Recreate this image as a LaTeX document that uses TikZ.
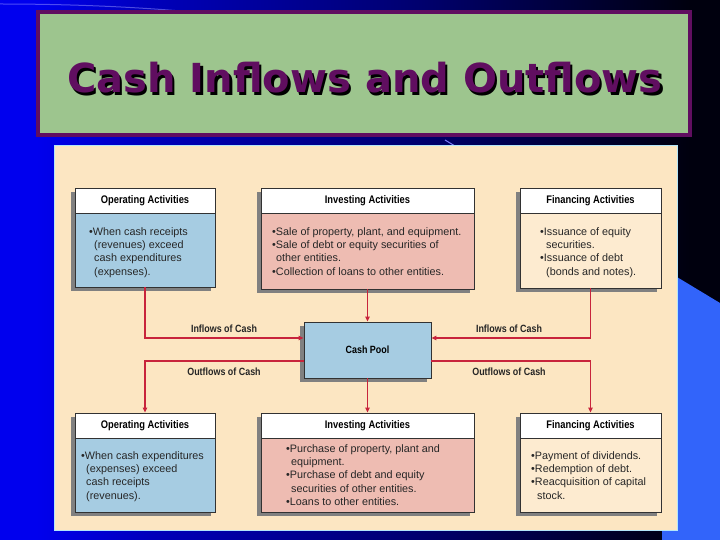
\documentclass[tikz,border=0pt]{standalone}
\usepackage{fontspec}
\setmainfont{Liberation Sans}
\newfontfamily\titlefont{DejaVu Sans}
\newfontfamily\hdrfont[FakeStretch=0.85]{Liberation Sans}
\usetikzlibrary{arrows.meta,shadings}
\definecolor{panelc}{RGB}{252,230,194}
\definecolor{opc}{RGB}{166,204,226}
\definecolor{invc}{RGB}{238,188,178}
\definecolor{finc}{RGB}{253,235,208}
\definecolor{flowc}{RGB}{200,36,60}
\definecolor{titleg}{RGB}{157,197,142}
\definecolor{titlep}{RGB}{96,14,96}
\definecolor{shadowc}{RGB}{128,128,128}
\definecolor{bordc}{RGB}{50,50,50}
\definecolor{bgblue}{RGB}{0,0,238}
\definecolor{bgnavy}{RGB}{0,0,110}
\definecolor{bgdark}{RGB}{0,0,14}
\definecolor{shapeblue}{RGB}{50,100,250}
\tikzset{
  actbox/.style={draw=bordc, line width=0.9pt, rectangle, inner sep=0pt},
  hdrbox/.style={draw=bordc, line width=0.9pt, fill=white, rectangle, inner sep=0pt, font=\hdrfont\bfseries\fontsize{11}{13}\selectfont},
  bodytext/.style={anchor=north west, inner sep=0pt, align=left, font=\fontsize{10.8}{13.4}\selectfont, text=black!85},
  flow/.style={draw=flowc, line width=1.3pt, -{Triangle[length=5pt,width=4.5pt]}},
  flowlabel/.style={font=\hdrfont\bfseries\fontsize{10.5}{12}\selectfont, text=black!85, inner sep=0pt},
}
\newcommand{\shadowbox}[4]{\fill[shadowc] (#1-4,#2+4) rectangle (#3-4,#4+4);}
\newcommand{\titlestr}{Cash Inflows and Outflows}
\begin{document}
\begin{tikzpicture}[x=1pt,y=-1pt]
\useasboundingbox (0,0) rectangle (720,540);
% background
\fill[bgblue] (0,0) rectangle (36,540);
\shade[left color=bgblue, right color=bgblue!60!bgnavy] (36,0) rectangle (150,540);
\shade[left color=bgblue!60!bgnavy, right color=bgnavy] (150,0) rectangle (420,540);
\shade[left color=bgnavy, right color=bgdark] (420,0) rectangle (690,540);
\fill[bgdark] (690,0) rectangle (720,540);
\fill[shapeblue] (662,268) -- (720,303) -- (720,540) -- (662,540) -- cycle;
\draw[white!60!blue, line width=1pt, opacity=0.5] (0,4) .. controls (100,4) and (200,10) .. (275,22);
\draw[blue!50!white, line width=1pt] (445,140) -- (455,146);
% title
\node[draw=titlep, line width=3.5pt, fill=titleg, minimum width=652pt, minimum height=123pt, inner sep=0pt] (title) at (364,73.5) {};
\node[font=\titlefont\bfseries\fontsize{40}{44}\selectfont, inner sep=0pt] (titletext) at (365,79)
  {\makebox[0pt][l]{\raisebox{-2.2pt}{\hspace{2.2pt}\textcolor{black}{\titlestr}}}\textcolor{titlep}{\titlestr}};
% panel
\node[draw=cyan!30!white, line width=0.8pt, fill=panelc, minimum width=623pt, minimum height=385pt, inner sep=0pt] (panel) at (365.5,337.5) {};
% shadows
\shadowbox{75}{188}{215}{287}
\shadowbox{261}{188}{474}{289}
\shadowbox{520}{188}{661}{288}
\shadowbox{304}{322}{431}{378}
\shadowbox{75}{413}{215}{512}
\shadowbox{261}{413}{474}{512}
\shadowbox{520}{413}{661}{512}
% top row
\node[actbox, fill=opc, minimum width=140pt, minimum height=99pt] (optop) at (145,237.5) {};
\node[hdrbox, minimum width=140pt, minimum height=25pt] (optoph) at (145,200.5) {Operating Activities};
\node[bodytext] (optopb) at (89,227) {\textbullet When cash receipts\\\hspace{5pt}(revenues) exceed\\\hspace{5pt}cash expenditures\\\hspace{5pt}(expenses).};
\node[actbox, fill=invc, minimum width=213pt, minimum height=101pt] (invtop) at (367.5,238.5) {};
\node[hdrbox, minimum width=213pt, minimum height=25pt] (invtoph) at (367.5,200.5) {Investing Activities};
\node[bodytext] (invtopb) at (272,227) {\textbullet Sale of property, plant, and equipment.\\\textbullet Sale of debt or equity securities of\\\hspace{4pt}other entities.\\\textbullet Collection of loans to other entities.};
\node[actbox, fill=finc, minimum width=141pt, minimum height=100pt] (fintop) at (590.5,238) {};
\node[hdrbox, minimum width=141pt, minimum height=25pt] (fintoph) at (590.5,200.5) {Financing Activities};
\node[bodytext] (fintopb) at (540,227) {\textbullet Issuance of equity\\\hspace{6pt}securities.\\\textbullet Issuance of debt\\\hspace{6pt}(bonds and notes).};
% cash pool
\node[actbox, fill=opc, minimum width=127pt, minimum height=56pt, font=\hdrfont\bfseries\fontsize{10.5}{12}\selectfont] (pool) at (367.5,350) {Cash Pool};
% bottom row
\node[actbox, fill=opc, minimum width=140pt, minimum height=99pt] (opbot) at (145,462.5) {};
\node[hdrbox, minimum width=140pt, minimum height=25pt] (opboth) at (145,425.5) {Operating Activities};
\node[bodytext] (opbotb) at (81,451) {\textbullet When cash expenditures\\\hspace{5pt}(expenses) exceed\\\hspace{5pt}cash receipts\\\hspace{5pt}(revenues).};
\node[actbox, fill=invc, minimum width=213pt, minimum height=99pt] (invbot) at (367.5,462.5) {};
\node[hdrbox, minimum width=213pt, minimum height=25pt] (invboth) at (367.5,425.5) {Investing Activities};
\node[bodytext] (invbotb) at (286,444) {\textbullet Purchase of property, plant and\\\hspace{5pt}equipment.\\\textbullet Purchase of debt and equity\\\hspace{5pt}securities of other entities.\\\textbullet Loans to other entities.};
\node[actbox, fill=finc, minimum width=141pt, minimum height=99pt] (finbot) at (590.5,462.5) {};
\node[hdrbox, minimum width=141pt, minimum height=25pt] (finboth) at (590.5,425.5) {Financing Activities};
\node[bodytext] (finbotb) at (531,451) {\textbullet Payment of dividends.\\\textbullet Redemption of debt.\\\textbullet Reacquisition of capital\\\hspace{6pt}stock.};
% connectors
\draw[flow] (optop.south) |- ([yshift=12pt]pool.west);
\draw[flow] (invtop.south) -- (pool.north);
\draw[flow] (fintop.south) |- ([yshift=12pt]pool.east);
\draw[flow] ([yshift=-11pt]pool.west) -| (opboth.north);
\draw[flow] (pool.south) -- (invboth.north);
\draw[flow] ([yshift=-11pt]pool.east) -| (finboth.north);
% labels
\node[flowlabel] (inL) at (224,329) {Inflows of Cash};
\node[flowlabel] (inR) at (509,329) {Inflows of Cash};
\node[flowlabel] (outL) at (224,372) {Outflows of Cash};
\node[flowlabel] (outR) at (509,372) {Outflows of Cash};
\end{tikzpicture}
\end{document}
